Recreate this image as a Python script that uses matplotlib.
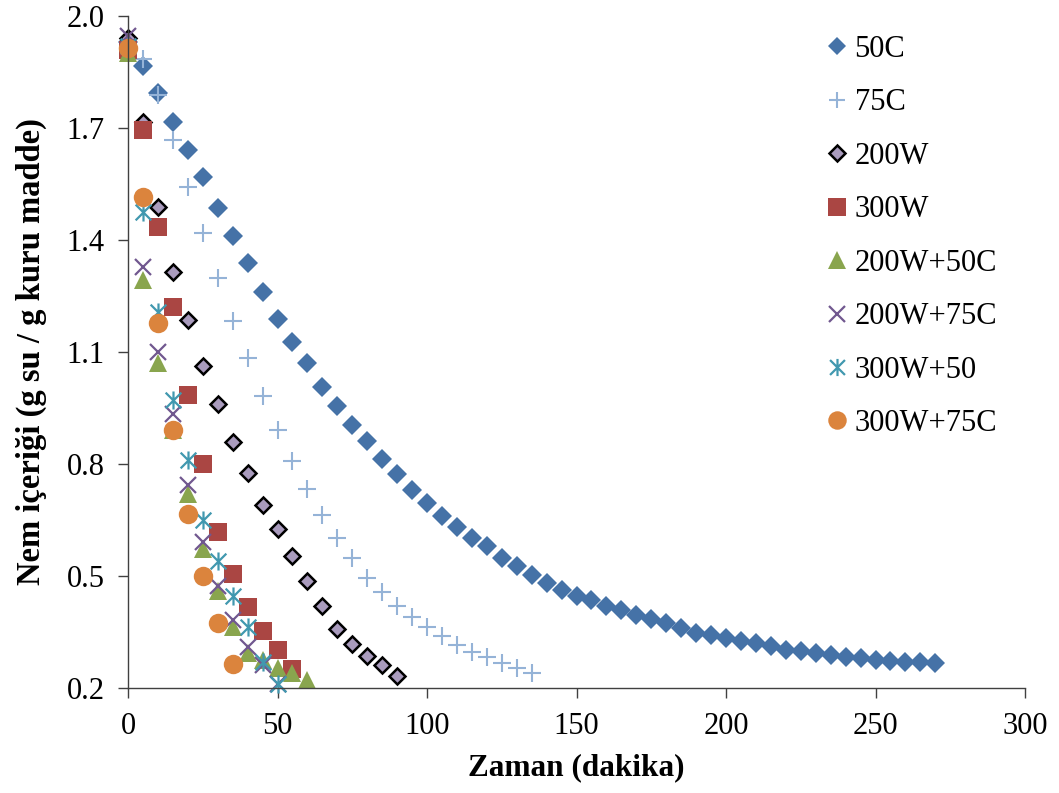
"""Nem içeriği - zaman kuruma eğrileri (dağılım grafiği)."""

import matplotlib
matplotlib.use("Agg")
import matplotlib.pyplot as plt
from matplotlib.path import Path

plt.rcParams["font.family"] = ["Liberation Serif", "DejaVu Serif"]

# --- data ---
t_50c = list(range(0, 275, 5))
m_50c = [1.93, 1.866, 1.794, 1.716, 1.641, 1.569, 1.486, 1.411, 1.338, 1.261,
         1.188, 1.127, 1.071, 1.006, 0.955, 0.905, 0.862, 0.813, 0.773, 0.730,
         0.696, 0.661, 0.631, 0.602, 0.580, 0.548, 0.527, 0.503, 0.481, 0.462,
         0.446, 0.436, 0.420, 0.409, 0.396, 0.385, 0.374, 0.361, 0.347, 0.342,
         0.334, 0.326, 0.321, 0.313, 0.302, 0.299, 0.294, 0.288, 0.283, 0.280,
         0.275, 0.272, 0.270, 0.270, 0.267]

t_75c = list(range(0, 140, 5))
m_75c = [1.92, 1.885, 1.789, 1.668, 1.542, 1.419, 1.298, 1.184, 1.084, 0.983,
         0.891, 0.808, 0.733, 0.663, 0.603, 0.548, 0.495, 0.458, 0.420, 0.390,
         0.364, 0.339, 0.315, 0.297, 0.282, 0.266, 0.253, 0.239]

t_200w = list(range(0, 95, 5))
m_200w = [1.94, 1.715, 1.488, 1.315, 1.186, 1.063, 0.960, 0.858, 0.777, 0.690,
          0.625, 0.554, 0.487, 0.420, 0.357, 0.318, 0.287, 0.262, 0.232]

t_300w = list(range(0, 60, 5))
m_300w = [1.91, 1.695, 1.434, 1.220, 0.984, 0.801, 0.619, 0.505, 0.418, 0.354,
          0.302, 0.250]

t_200w50 = list(range(0, 65, 5))
m_200w50 = [1.90, 1.293, 1.070, 0.891, 0.720, 0.571, 0.460, 0.364, 0.295,
            0.275, 0.254, 0.240, 0.221]

t_200w75 = list(range(0, 55, 5))
m_200w75 = [1.946, 1.327, 1.101, 0.935, 0.744, 0.592, 0.473, 0.382, 0.311,
            0.262, 0.210]

t_300w50 = list(range(0, 55, 5))
m_300w50 = [1.92, 1.475, 1.208, 0.971, 0.811, 0.651, 0.540, 0.446, 0.364,
            0.270, 0.211]

t_300w75 = list(range(0, 40, 5))
m_300w75 = [1.913, 1.514, 1.177, 0.891, 0.666, 0.500, 0.375, 0.265]

labels = ["50C", "75C", "200W", "300W", "200W+50C", "200W+75C", "300W+50",
          "300W+75C"]
x_ticks = [0, 50, 100, 150, 200, 250, 300]
y_ticks = [0.2, 0.5, 0.8, 1.1, 1.4, 1.7, 2.0]

# Excel-style asterisk: X with a vertical bar
STAR = Path([(-1, -1), (1, 1), (-1, 1), (1, -1), (0, -1.15), (0, 1.15)],
            [Path.MOVETO, Path.LINETO] * 3)

series = [
    (t_50c, m_50c, dict(marker="D", ms=10, mfc="#4572A7", mec="#4572A7", mew=0)),
    (t_75c, m_75c, dict(marker="+", ms=12.5, mfc="none", mec="#95B3D7", mew=1.5)),
    (t_200w, m_200w, dict(marker="D", ms=8.5, mfc="#A99BBD", mec="black", mew=1.8)),
    (t_300w, m_300w, dict(marker="s", ms=13, mfc="#AA4643", mec="#AA4643", mew=0)),
    (t_200w50, m_200w50, dict(marker="^", ms=13.5, mfc="#89A54E", mec="#89A54E", mew=0)),
    (t_200w75, m_200w75, dict(marker="x", ms=12, mfc="none", mec="#71588F", mew=1.6)),
    (t_300w50, m_300w50, dict(marker=STAR, ms=13, mfc="none", mec="#4198AF", mew=1.6)),
    (t_300w75, m_300w75, dict(marker="o", ms=14, mfc="#DB843D", mec="#DB843D", mew=0)),
]

fig = plt.figure(figsize=(10.59, 7.93), dpi=100)
ax = fig.add_axes([128 / 1059, 1 - 688 / 793, (1025 - 128) / 1059, (688 - 16) / 793])

for (t, m, style), lab in zip(series, labels):
    ax.plot(t, m, linestyle="none", label=lab, clip_on=False, **style)

ax.set_xlim(0, 300)
ax.set_ylim(0.2, 2.0)
ax.set_xticks(x_ticks)
ax.set_yticks(y_ticks)
ax.set_yticklabels([f"{v:.1f}" for v in y_ticks])
ax.tick_params(labelsize=22, length=7, width=1, color="#404040", pad=10)
for side in ("top", "right"):
    ax.spines[side].set_visible(False)
for side in ("left", "bottom"):
    ax.spines[side].set_color("#404040")
    ax.spines[side].set_linewidth(1)

ax.set_xlabel("Zaman (dakika)", fontsize=22.5, fontweight="bold", labelpad=9)
ax.set_ylabel("Nem içeriği (g su / g kuru madde)", fontsize=23.5,
              fontweight="bold", labelpad=14)

ax.legend(loc="upper left", bbox_to_anchor=(824 / 1059, 1 - 35 / 793),
          bbox_transform=fig.transFigure, frameon=False, fontsize=22,
          handlelength=0.85, handletextpad=0.15, labelspacing=0.80,
          borderpad=0, borderaxespad=0, markerscale=0.95)

fig.savefig("out.png", dpi=100)
